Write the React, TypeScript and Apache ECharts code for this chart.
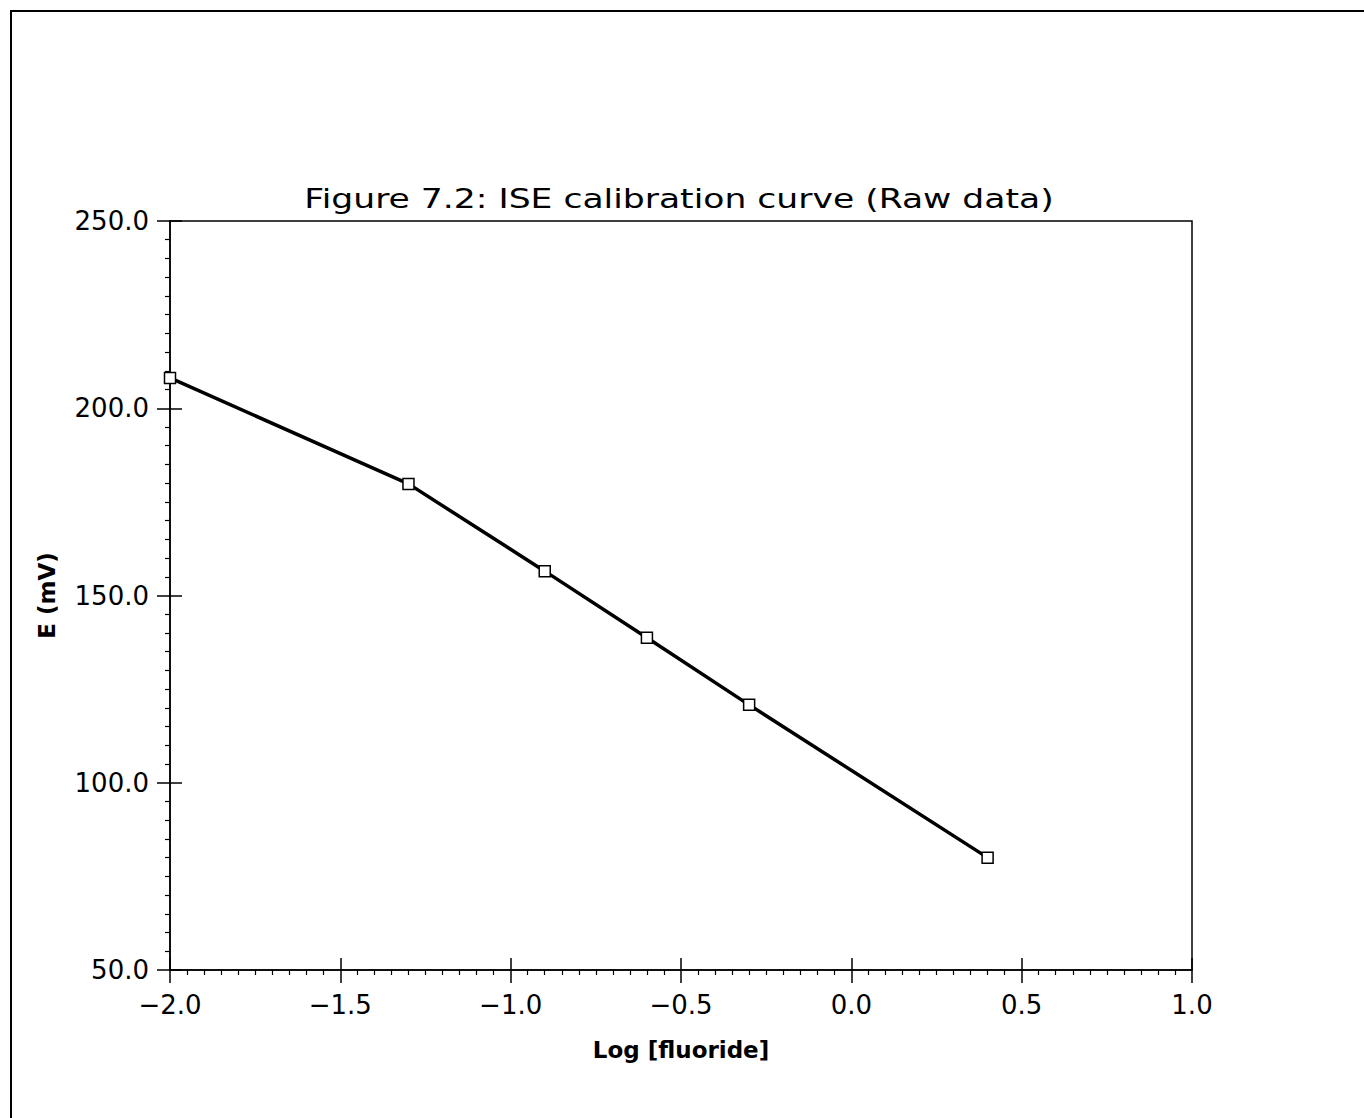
import React, { useEffect, useRef } from "react";
import * as echarts from "echarts";

const logFluoride = [-2.0, -1.3, -0.9, -0.6, -0.3, 0.4];
const potentialMV = [208.1, 179.8, 156.5, 138.7, 120.8, 80.0];
const titleText = "Figure 7.2: ISE calibration curve (Raw data)";
const xName = "Log [fluoride]";
const yName = "E (mV)";

export default function App() {
  const ref = useRef<HTMLDivElement>(null);
  useEffect(() => {
    if (!ref.current) return;
    const chart = echarts.init(ref.current, undefined, { renderer: "svg" });
    const labelFont = { fontFamily: "DejaVu Sans", fontSize: 26, color: "#000" };
    const data = logFluoride.map((x, i) => [x, potentialMV[i]]);
    chart.setOption({
      animation: false,
      backgroundColor: "#fff",
      graphic: [
        {
          type: "polyline",
          shape: { points: [[11, 1130], [11, 11], [1380, 11]] },
          style: { stroke: "#000", lineWidth: 2, fill: null },
        },
        {
          type: "text",
          x: 679,
          y: 199,
          scaleX: 1.33,
          style: {
            text: titleText,
            font: "normal 26px 'DejaVu Sans'",
            fill: "#000",
            align: "center",
            verticalAlign: "middle",
          },
        },
      ],
      grid: {
        left: 170,
        right: 172,
        top: 221,
        bottom: 148,
        show: true,
        borderColor: "#000",
        borderWidth: 1.5,
        backgroundColor: "transparent",
      },
      xAxis: [
        {
          type: "value",
          min: -2.0,
          max: 1.0,
          interval: 0.5,
          position: "bottom",
          axisLine: { onZero: false, lineStyle: { color: "#000", width: 1.5 } },
          axisTick: { show: true, inside: false, length: 13, lineStyle: { color: "#000", width: 1.5 } },
          minorTick: { show: true, splitNumber: 10, length: 5, lineStyle: { color: "#000", width: 1.2 } },
          splitLine: { show: false },
          axisLabel: { ...labelFont, margin: 22, formatter: (v: number) => v.toFixed(1).replace("-", "\u2212") },
          name: xName,
          nameLocation: "middle",
          nameGap: 68,
          nameTextStyle: { fontFamily: "DejaVu Sans", fontSize: 23, fontWeight: "bold", color: "#000" },
        },
        {
          type: "value",
          min: -2.0,
          max: 1.0,
          interval: 0.5,
          position: "bottom",
          axisLine: { show: false, onZero: false },
          axisTick: { show: true, inside: true, length: 12, lineStyle: { color: "#000", width: 1.5 } },
          axisLabel: { show: false },
          splitLine: { show: false },
        },
      ],
      yAxis: [
        {
          type: "value",
          min: 50,
          max: 250,
          interval: 50,
          position: "left",
          axisLine: { onZero: false, lineStyle: { color: "#000", width: 1.5 } },
          axisTick: { show: true, inside: false, length: 13, lineStyle: { color: "#000", width: 1.5 } },
          minorTick: { show: true, splitNumber: 10, length: 5, lineStyle: { color: "#000", width: 1.2 } },
          splitLine: { show: false },
          axisLabel: { ...labelFont, margin: 21, formatter: (v: number) => v.toFixed(1) },
          name: yName,
          nameLocation: "middle",
          nameGap: 112,
          nameTextStyle: { fontFamily: "DejaVu Sans", fontSize: 23, fontWeight: "bold", color: "#000" },
        },
        {
          type: "value",
          min: 50,
          max: 250,
          interval: 50,
          position: "left",
          axisLine: { show: false, onZero: false },
          axisTick: { show: true, inside: true, length: 12, lineStyle: { color: "#000", width: 1.5 } },
          axisLabel: { show: false },
          splitLine: { show: false },
        },
      ],
      series: [
        {
          type: "line",
          data,
          xAxisIndex: 0,
          yAxisIndex: 0,
          symbol: "rect",
          symbolSize: 11,
          showAllSymbol: true,
          lineStyle: { color: "#000", width: 3.5 },
          itemStyle: { color: "#fff", borderColor: "#000", borderWidth: 1.5 },
          z: 3,
        },
      ],
    });
    return () => chart.dispose();
  }, []);
  return (
    <div
      ref={ref}
      style={{ position: "absolute", left: 0, top: 0, width: 1364, height: 1118 }}
    />
  );
}
